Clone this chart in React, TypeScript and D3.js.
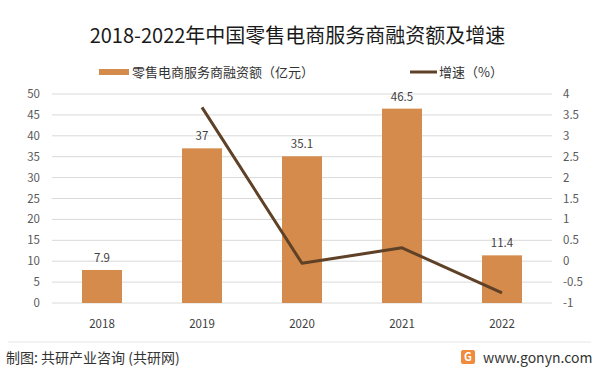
import React from 'react';
import * as d3 from 'd3';

const years = ['2018', '2019', '2020', '2021', '2022'];
const amount = [7.9, 37, 35.1, 46.5, 11.4];
const growth = [null, 3.68, -0.05, 0.32, -0.76];
const leftTicks = [0, 5, 10, 15, 20, 25, 30, 35, 40, 45, 50];
const rightTicks = [-1, -0.5, 0, 0.5, 1, 1.5, 2, 2.5, 3, 3.5, 4];

const W = 599;
const H = 373;
const font = '"Noto Sans CJK SC", "Noto Sans", sans-serif';

const App = () => {
  const x = d3.scaleBand().domain(years).range([52, 552]).paddingInner(0.6).paddingOuter(0.3);
  const yL = d3.scaleLinear().domain([0, 50]).range([303, 94]);
  const yR = d3.scaleLinear().domain([-1, 4]).range([303, 94]);

  const pts = years
    .map((yr, i) => ({ yr, v: growth[i] }))
    .filter((d) => d.v !== null);
  const line = d3
    .line<any>()
    .x((d) => (x(d.yr) as number) + x.bandwidth() / 2)
    .y((d) => yR(d.v));

  return (
    <svg width={W} height={H} style={{ position: 'absolute', left: 0, top: 0, background: '#fff' }}>
      <rect width={W} height={H} fill='#fff' />
      <text x={W / 2 - 2} y={43} textAnchor='middle' fontSize={20} fontFamily={font} fill='#1a1a1a'>
        2018-2022年中国零售电商服务商融资额及增速
      </text>

      {/* legend */}
      <rect x={99} y={69} width={30} height={6} fill='#D48B4C' />
      <text x={132} y={77} fontSize={13} fontFamily={font} fill='#333'>
        零售电商服务商融资额（亿元）
      </text>
      <line x1={410} x2={437} y1={72} y2={72} stroke='#5E4126' strokeWidth={3} />
      <text x={439} y={77} fontSize={13} fontFamily={font} fill='#333'>
        增速（%）
      </text>

      {/* grid */}
      {leftTicks.map((t) => (
        <line key={t} x1={52} x2={552} y1={yL(t)} y2={yL(t)} stroke='#d9d9d9' strokeWidth={1} />
      ))}
      {leftTicks.map((t) => (
        <text key={'l' + t} x={40} y={yL(t) + 4} textAnchor='end' fontSize={11.5} fontFamily={font} fill='#595959'>
          {t}
        </text>
      ))}
      {rightTicks.map((t) => (
        <text key={'r' + t} x={563} y={yR(t) + 4} fontSize={11.5} fontFamily={font} fill='#595959'>
          {t}
        </text>
      ))}

      {/* bars */}
      {years.map((yr, i) => (
        <g key={yr}>
          <rect
            x={x(yr)}
            y={yL(amount[i])}
            width={x.bandwidth()}
            height={yL(0) - yL(amount[i])}
            fill='#D48B4C'
          />
          <text
            x={(x(yr) as number) + x.bandwidth() / 2}
            y={yL(amount[i]) - 8}
            textAnchor='middle'
            fontSize={11.5}
            fontFamily={font}
            fill='#404040'
          >
            {amount[i]}
          </text>
          <text
            x={(x(yr) as number) + x.bandwidth() / 2}
            y={328}
            textAnchor='middle'
            fontSize={11.5}
            fontFamily={font}
            fill='#404040'
          >
            {yr}
          </text>
        </g>
      ))}

      <path d={line(pts) as string} fill='none' stroke='#5E4126' strokeWidth={3} strokeLinejoin='round' />

      {/* footer */}
      <line x1={8} x2={591} y1={342} y2={342} stroke='#e6e6e6' strokeWidth={1} />
      <text x={6} y={363} fontSize={14} fontFamily={font} fill='#333'>
        制图: 共研产业咨询 (共研网)
      </text>
      <rect x={461} y={350} width={14} height={14} rx={2} fill='#F08A3C' />
      <text x={468} y={361} textAnchor='middle' fontSize={11} fontWeight='bold' fontFamily={font} fill='#fff'>
        G
      </text>
      <text x={483} y={363} fontSize={14} fontFamily={font} fill='#333'>
        www.gonyn.com
      </text>
    </svg>
  );
};

export default App;
